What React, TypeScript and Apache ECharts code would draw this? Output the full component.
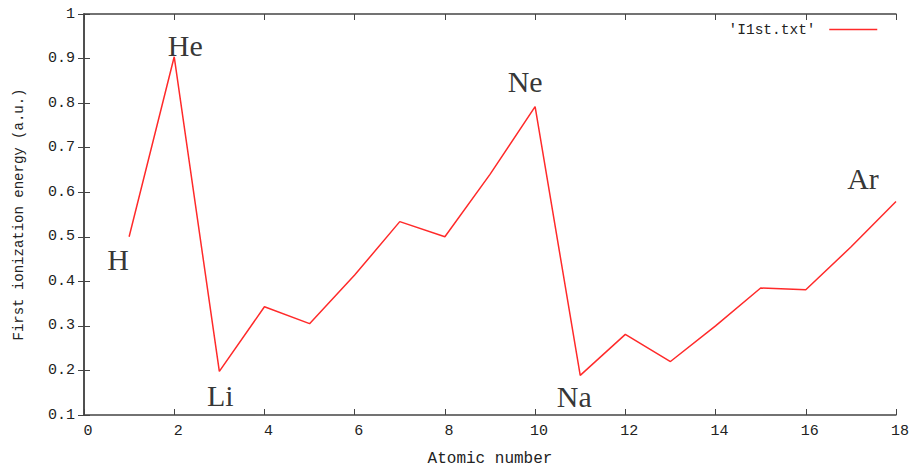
import React, { useEffect, useRef } from "react";
import * as echarts from "echarts";

// First ionization energies (hartree) for Z = 1..18
const atomicNumbers = [1, 2, 3, 4, 5, 6, 7, 8, 9, 10, 11, 12, 13, 14, 15, 16, 17, 18];
const ionizationEnergy = [
  0.5, 0.904, 0.198, 0.343, 0.305, 0.414, 0.534, 0.5, 0.64, 0.792, 0.189, 0.281, 0.22, 0.3,
  0.385, 0.381, 0.477, 0.579,
];

// Element symbols annotated on the curve, with label offsets [dx, dy] from the point
const labeledElements = ["H", "He", "Li", "Ne", "Na", "Ar"];
const labeledZ = [1, 2, 3, 10, 11, 18];
const labelOffsets: number[][] = [
  [-11, 23],
  [11, -11],
  [1, 24],
  [-10, -25],
  [-6, 21],
  [-33, -23],
];

const seriesName = "'I1st.txt'";
const xTitle = "Atomic number";
const yTitle = "First ionization energy (a.u.)";

const mono = "'Liberation Mono', 'DejaVu Sans Mono', monospace";
const serif = "'Liberation Serif', 'DejaVu Serif', serif";
const axisColor = "#444";
const textColor = "#222";
const lineColor = "#ff2a2a";

export default function App() {
  const ref = useRef<HTMLDivElement>(null);

  useEffect(() => {
    if (!ref.current) return;
    const chart = echarts.init(ref.current, undefined, { renderer: "svg" });

    const lineData = atomicNumbers.map((z, i) => [z, ionizationEnergy[i]]);
    const annotations = labeledElements.map((sym, i) => {
      const z = labeledZ[i];
      const idx = atomicNumbers.indexOf(z);
      return {
        name: sym,
        value: [z, ionizationEnergy[idx]],
        label: { offset: labelOffsets[i] },
      };
    });

    const tickLabel = { fontFamily: mono, fontSize: 14, color: textColor };

    chart.setOption({
      animation: false,
      backgroundColor: "#fff",
      grid: { left: 84, right: 16, top: 14, bottom: 54, containLabel: false },
      legend: {
        data: [seriesName],
        right: 29,
        top: 17,
        align: "right",
        itemWidth: 48,
        itemHeight: 14,
        itemStyle: { opacity: 0 },
        lineStyle: { color: lineColor, width: 1.5 },
        textStyle: { fontFamily: mono, fontSize: 14.5, color: textColor },
        formatter: (n: string) => n + " ",
      },
      xAxis: [
        {
          type: "value",
          min: 0,
          max: 18,
          interval: 2,
          name: xTitle,
          nameLocation: "middle",
          nameGap: 36,
          nameTextStyle: { fontFamily: mono, fontSize: 16, color: textColor },
          axisLine: { show: true, lineStyle: { color: axisColor, width: 1.5 } },
          axisTick: { show: true, inside: true, length: 6, lineStyle: { color: axisColor } },
          axisLabel: { ...tickLabel, fontSize: 15, margin: 9, padding: [0, 0, 0, 8] },
          splitLine: { show: false },
        },
        {
          type: "value",
          position: "top",
          min: 0,
          max: 18,
          interval: 2,
          axisLine: { show: true, lineStyle: { color: axisColor, width: 1.5 } },
          axisTick: { show: true, inside: true, length: 6, lineStyle: { color: axisColor } },
          axisLabel: { show: false },
          splitLine: { show: false },
        },
      ],
      yAxis: [
        {
          type: "value",
          min: 0.1,
          max: 1,
          interval: 0.1,
          name: yTitle,
          nameLocation: "middle",
          nameGap: 58,
          nameTextStyle: { fontFamily: mono, fontSize: 14, color: textColor },
          axisLine: { show: true, lineStyle: { color: axisColor, width: 1.5 } },
          axisTick: { show: true, inside: true, length: 6, lineStyle: { color: axisColor } },
          axisLabel: {
            ...tickLabel,
            fontSize: 15,
            margin: 9,
            formatter: (v: number) => (Math.abs(v - 1) < 1e-9 ? "1" : v.toFixed(1)),
          },
          splitLine: { show: false },
        },
        {
          type: "value",
          position: "right",
          min: 0.1,
          max: 1,
          interval: 0.1,
          axisLine: { show: true, lineStyle: { color: axisColor, width: 1.5 } },
          axisTick: { show: true, inside: true, length: 6, lineStyle: { color: axisColor } },
          axisLabel: { show: false },
          splitLine: { show: false },
        },
      ],
      series: [
        {
          name: seriesName,
          type: "line",
          data: lineData,
          symbol: "none",
          lineStyle: { color: lineColor, width: 1.5 },
          itemStyle: { color: lineColor },
          z: 3,
        },
        {
          name: "elements",
          type: "scatter",
          data: annotations,
          symbolSize: 1,
          itemStyle: { color: "rgba(0,0,0,0)" },
          silent: true,
          label: {
            show: true,
            position: "inside",
            formatter: (p: any) => p.name,
            fontFamily: serif,
            fontSize: 30,
            color: "#000",
            textBorderWidth: 0,
          },
          z: 4,
        },
      ],
    });

    return () => chart.dispose();
  }, []);

  return (
    <div
      ref={ref}
      style={{ position: "fixed", left: 0, top: 0, width: 912, height: 472, background: "#fff" }}
    />
  );
}
